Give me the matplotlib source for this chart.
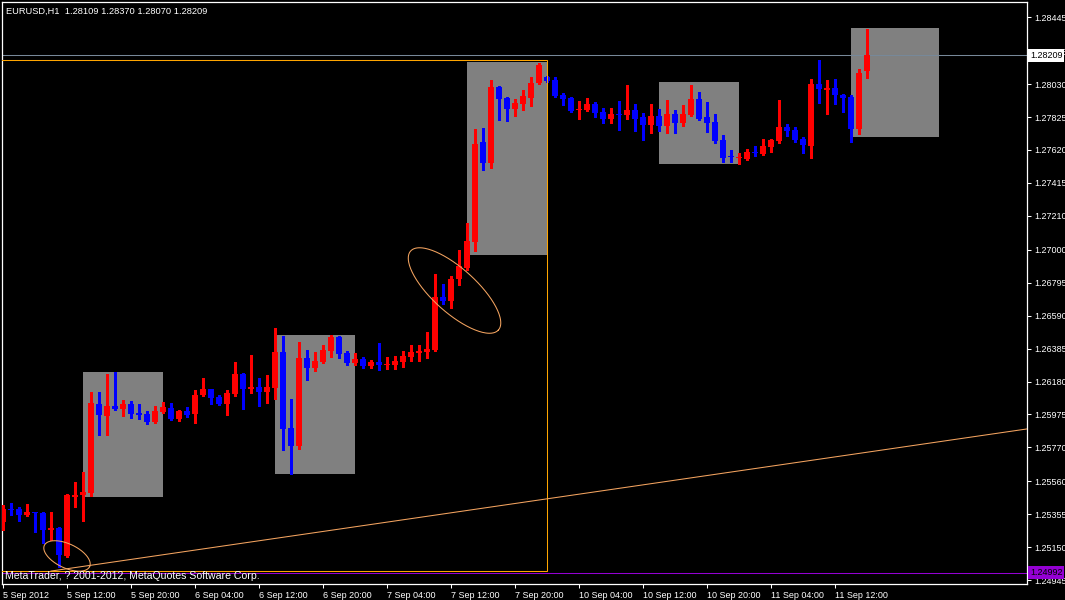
import numpy as np
import matplotlib
matplotlib.use("Agg")
import matplotlib.pyplot as plt
from matplotlib.patches import Rectangle
from matplotlib.transforms import blended_transform_factory

# EURUSD H1 candles, 5 Sep 04:00 .. 11 Sep 16:00
opens = [1.25307, 1.25387, 1.25387, 1.25350, 1.25369, 1.25362, 1.25256, 1.25269, 1.25095, 1.25462,
         1.25474, 1.25487, 1.26040, 1.25966, 1.26028, 1.26009, 1.26040, 1.25984, 1.25978, 1.25928,
         1.25990, 1.26015, 1.25947, 1.25997, 1.25978, 1.26096, 1.26133, 1.26084, 1.26040, 1.26102,
         1.26227, 1.26133, 1.26146, 1.26115, 1.26140, 1.26364, 1.25891, 1.25779, 1.26326, 1.26264,
         1.26301, 1.26370, 1.26457, 1.26358, 1.26295, 1.26320, 1.26277, 1.26301, 1.26283, 1.26283,
         1.26301, 1.26333, 1.26358, 1.26364, 1.26376, 1.26706, 1.26681, 1.26818, 1.26886, 1.27048,
         1.27670, 1.27539, 1.28012, 1.27943, 1.27875, 1.27906, 1.27943, 1.28037, 1.28074, 1.28055,
         1.27962, 1.27943, 1.27866, 1.27869, 1.27906, 1.27856, 1.27813, 1.27844, 1.27838, 1.27869,
         1.27825, 1.27776, 1.27832, 1.27769, 1.27844, 1.27788, 1.27838, 1.27937, 1.27825, 1.27794,
         1.27682, 1.27580, 1.27570, 1.27564, 1.27608, 1.27595, 1.27639, 1.27676, 1.27763, 1.27744,
         1.27688, 1.27645, 1.28031, 1.27993, 1.28006, 1.27962, 1.27950, 1.27751, 1.28109]
highs = [1.25412, 1.25424, 1.25399, 1.25418, 1.25369, 1.25368, 1.25369, 1.25275, 1.25480, 1.25555,
         1.25617, 1.26115, 1.26115, 1.26227, 1.26239, 1.26065, 1.26059, 1.26040, 1.25997, 1.26028,
         1.26053, 1.26046, 1.26003, 1.26021, 1.26127, 1.26202, 1.26133, 1.26096, 1.26127, 1.26301,
         1.26233, 1.26345, 1.26202, 1.26220, 1.26513, 1.26463, 1.26071, 1.26426, 1.26376, 1.26364,
         1.26407, 1.26469, 1.26463, 1.26370, 1.26358, 1.26333, 1.26314, 1.26420, 1.26333, 1.26339,
         1.26370, 1.26407, 1.26407, 1.26488, 1.26849, 1.26787, 1.26836, 1.26998, 1.27166, 1.27749,
         1.27757, 1.28055, 1.28018, 1.27950, 1.27937, 1.27993, 1.28074, 1.28161, 1.28080, 1.28074,
         1.27975, 1.27950, 1.27925, 1.27943, 1.27919, 1.27881, 1.27881, 1.27925, 1.28024, 1.27906,
         1.27850, 1.27906, 1.27875, 1.27931, 1.27869, 1.27900, 1.28024, 1.27981, 1.27919, 1.27844,
         1.27713, 1.27620, 1.27601, 1.27626, 1.27645, 1.27688, 1.27688, 1.27931, 1.27782, 1.27763,
         1.27701, 1.28062, 1.28180, 1.28055, 1.28062, 1.27968, 1.27962, 1.28124, 1.28370]
lows = [1.25256, 1.25350, 1.25313, 1.25344, 1.25244, 1.25175, 1.25194, 1.25026, 1.25090, 1.25399,
        1.25313, 1.25468, 1.25847, 1.25847, 1.26003, 1.25966, 1.25953, 1.25947, 1.25916, 1.25922,
        1.25984, 1.25941, 1.25935, 1.25959, 1.25922, 1.26090, 1.26040, 1.26034, 1.25972, 1.26090,
        1.26009, 1.26109, 1.26028, 1.26046, 1.26071, 1.25754, 1.25605, 1.25760, 1.26189, 1.26245,
        1.26295, 1.26333, 1.26326, 1.26283, 1.26283, 1.26264, 1.26264, 1.26252, 1.26258, 1.26258,
        1.26270, 1.26308, 1.26308, 1.26326, 1.26370, 1.26662, 1.26637, 1.26780, 1.26874, 1.26992,
        1.27496, 1.27508, 1.27807, 1.27800, 1.27832, 1.27869, 1.27894, 1.28030, 1.28043, 1.27950,
        1.27900, 1.27856, 1.27813, 1.27863, 1.27825, 1.27788, 1.27788, 1.27744, 1.27813, 1.27738,
        1.27682, 1.27726, 1.27738, 1.27726, 1.27726, 1.27769, 1.27832, 1.27807, 1.27732, 1.27664,
        1.27545, 1.27545, 1.27533, 1.27558, 1.27583, 1.27589, 1.27608, 1.27664, 1.27707, 1.27670,
        1.27601, 1.27570, 1.27912, 1.27844, 1.27906, 1.27856, 1.27670, 1.27720, 1.28070]
closes = [1.25387, 1.25381, 1.25350, 1.25369, 1.25362, 1.25256, 1.25269, 1.25101, 1.25474, 1.25474,
          1.25493, 1.26046, 1.25972, 1.26028, 1.26009, 1.26040, 1.25978, 1.25972, 1.25928, 1.25997,
          1.26021, 1.25947, 1.25997, 1.25972, 1.26096, 1.26133, 1.26077, 1.26040, 1.26109, 1.26227,
          1.26133, 1.26146, 1.26115, 1.26146, 1.26364, 1.25885, 1.25779, 1.26326, 1.26264, 1.26308,
          1.26376, 1.26457, 1.26351, 1.26295, 1.26320, 1.26277, 1.26301, 1.26283, 1.26289, 1.26308,
          1.26339, 1.26364, 1.26370, 1.26382, 1.26706, 1.26681, 1.26818, 1.26898, 1.27054, 1.27658,
          1.27539, 1.28012, 1.27937, 1.27875, 1.27912, 1.27956, 1.28037, 1.28149, 1.28049, 1.27956,
          1.27937, 1.27863, 1.27869, 1.27906, 1.27850, 1.27813, 1.27844, 1.27838, 1.27869, 1.27813,
          1.27776, 1.27832, 1.27769, 1.27844, 1.27788, 1.27844, 1.27937, 1.27813, 1.27788, 1.27676,
          1.27570, 1.27576, 1.27576, 1.27608, 1.27601, 1.27645, 1.27682, 1.27763, 1.27738, 1.27682,
          1.27651, 1.28031, 1.27999, 1.28006, 1.27962, 1.27943, 1.27751, 1.28099, 1.28209]

time_labels = ["5 Sep 2012", "5 Sep 12:00", "5 Sep 20:00", "6 Sep 04:00", "6 Sep 12:00",
               "6 Sep 20:00", "7 Sep 04:00", "7 Sep 12:00", "7 Sep 20:00", "10 Sep 04:00",
               "10 Sep 12:00", "10 Sep 20:00", "11 Sep 04:00", "11 Sep 12:00"]
price_ticks = [1.28445, 1.28235, 1.28030, 1.27825, 1.27620, 1.27415, 1.27210, 1.27000, 1.26795,
               1.26590, 1.26385, 1.26180, 1.25975, 1.25770, 1.25560, 1.25355, 1.25150, 1.24945]

# gray boxes (bar index from/to, price top/bottom)
box_from = [10, 34, 58, 82, 106]
box_to = [20, 44, 68, 92, 117]
box_top = [1.26239, 1.26469, 1.28167, 1.28043, 1.28379]
box_bot = [1.25462, 1.25605, 1.26967, 1.27533, 1.27701]

frame_from, frame_to = -2, 68
frame_top, frame_bot = 1.28177, 1.25001

trend_x = [6.0, 128.0]
trend_y = [1.25001, 1.25885]

# ellipses: centre, two half-axis vectors (bars, price)
ell_c = [(8.0, 1.25095), (56.44, 1.26746)]
ell_a = [(2.83, -0.00066), (5.48, -0.00246)]
ell_b = [(-0.63, -0.00068), (-1.84, -0.00101)]

bid = 1.28209
ask_line = 1.24992
title = "EURUSD,H1  1.28109 1.28370 1.28070 1.28209"
copyright_txt = "MetaTrader, ? 2001-2012, MetaQuotes Software Corp."

W, H = 1065, 600
plt.rcParams['font.family'] = ['Liberation Sans', 'DejaVu Sans']
fig = plt.figure(figsize=(W / 100, H / 100), dpi=100, facecolor='black')
left_px, right_px, top_px, bot_px = 2.3, 1027.3, 2.3, 584.3
ax = fig.add_axes([left_px / W, 1 - bot_px / H, (right_px - left_px) / W, (bot_px - top_px) / H])
ax.set_facecolor('black')

# pixel scale: 8 px per bar, bar 0 at x=3; price 1.28553 at y=0, 0.0000622 per px
ax.set_xlim((left_px - 3) / 8, (right_px - 3) / 8)
ax.set_ylim(1.28553 - 0.0000622 * bot_px, 1.28553 - 0.0000622 * top_px)

for i in range(len(box_from)):
    ax.add_patch(Rectangle((box_from[i], box_bot[i]), box_to[i] - box_from[i], box_top[i] - box_bot[i],
                           facecolor='#808080', edgecolor='none', zorder=1, antialiased=False))

x = np.arange(len(opens))
o = np.array(opens); c = np.array(closes)
cols = np.where(c >= o, '#ff0000', '#0000ff')
ax.vlines(x, lows, highs, colors=cols, linewidth=0.75, zorder=3, antialiased=False)
body_lo = np.minimum(o, c)
body_hi = body_lo + np.maximum(np.abs(c - o), 0.00007)
ax.vlines(x, body_lo, body_hi, colors=cols, linewidth=4.0, zorder=4, antialiased=False)

ax.axhline(bid, color='#778899', linewidth=0.75, zorder=2)
ax.axhline(ask_line, color='#9400d3', linewidth=0.75, zorder=2)
ax.add_patch(Rectangle((frame_from, frame_bot), frame_to - frame_from, frame_top - frame_bot,
                       facecolor='none', edgecolor='#ffa500', linewidth=0.75, zorder=5))
ax.plot(trend_x, trend_y, color='#f4a460', linewidth=0.75, zorder=5)

t = np.linspace(0, 2 * np.pi, 200)
for (cx, cy), (ax_, ay_), (bx_, by_) in zip(ell_c, ell_a, ell_b):
    ax.plot(cx + np.cos(t) * ax_ + np.sin(t) * bx_, cy + np.cos(t) * ay_ + np.sin(t) * by_,
            color='#f4a460', linewidth=0.75, zorder=5)

for s in ax.spines.values():
    s.set_color('white')
    s.set_linewidth(0.9)

ax.yaxis.tick_right()
ax.set_yticks(price_ticks)
ax.set_yticklabels([f"{p:.5f}" for p in price_ticks])
ax.set_xticks(np.arange(0, 8 * len(time_labels), 8))
ax.set_xticklabels(time_labels)
ax.tick_params(colors='white', labelcolor='white', labelsize=6.5, direction='out', length=3, width=0.75, pad=2)
for lbl in ax.get_xticklabels():
    lbl.set_horizontalalignment('left')

tr = blended_transform_factory(ax.transAxes, ax.transData)
ax.text(1.0025, bid, f"{bid:.5f}", transform=tr, fontsize=6.5, color='black', va='center', ha='left',
        bbox=dict(facecolor='white', edgecolor='none', pad=1.4), zorder=10, clip_on=False)
ax.text(1.0025, ask_line, f"{ask_line:.5f}", transform=tr, fontsize=6.5, color='black', va='center', ha='left',
        bbox=dict(facecolor='#9400d3', edgecolor='none', pad=1.4), zorder=10, clip_on=False)

fig.text(6 / W, 1 - 11 / H, title, color='white', fontsize=6.7, va='center', ha='left')
fig.text(5 / W, 1 - 576 / H, copyright_txt, color='white', fontsize=7.6, va='center', ha='left')

fig.savefig('out.png', dpi=100, facecolor='black')
